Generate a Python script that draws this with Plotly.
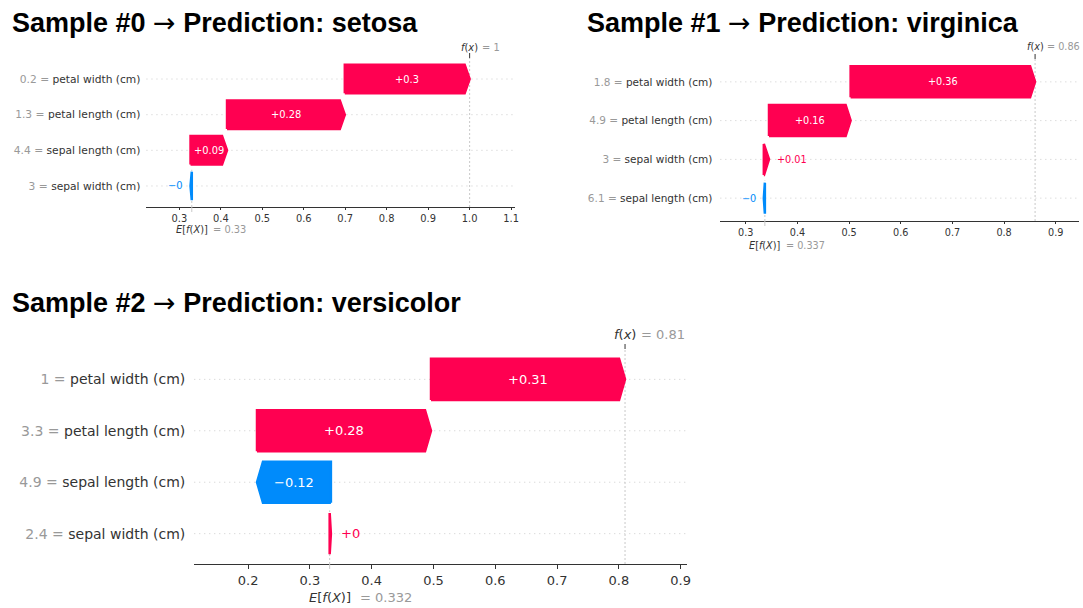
import plotly.graph_objects as go

# ---------------------------------------------------------------- data
# Each sample: features listed top-to-bottom, their raw values, SHAP values,
# the expected model output E[f(X)] and the predicted class.
s0_features = ["petal width (cm)", "petal length (cm)", "sepal length (cm)", "sepal width (cm)"]
s0_values = [0.2, 1.3, 4.4, 3]
s0_shap = [0.301, 0.284, 0.088, -0.003]
s0_base = 0.33
s0_class = "setosa"

s1_features = ["petal width (cm)", "petal length (cm)", "sepal width (cm)", "sepal length (cm)"]
s1_values = [1.8, 4.9, 3, 6.1]
s1_shap = [0.357, 0.158, 0.010, -0.002]
s1_base = 0.337
s1_class = "virginica"

s2_features = ["petal width (cm)", "petal length (cm)", "sepal length (cm)", "sepal width (cm)"]
s2_values = [1, 3.3, 4.9, 2.4]
s2_shap = [0.314, 0.2816, -0.1196, 0.002]
s2_base = 0.332
s2_class = "versicolor"

# ---------------------------------------------------------------- style
W, H = 1083, 608
RED, BLUE = "#ff0051", "#008bfb"
AXIS, GRAY, VLINE, GRID = "#333333", "#999999", "#c8c8c8", "#cccccc"
FONT = "DejaVu Sans"
TITLE_FONT = "Liberation Sans, Arial, sans-serif"
ARROW = "<span style='font-family:DejaVu Sans;font-weight:normal'>\u2192</span>"


def fmt(v, pattern):
    s = pattern % v
    if "." in s:
        s = s.rstrip("0").rstrip(".")
    return s.replace("-", "\u2212")


# placement of each waterfall panel on the page (pixels)
panels = [
    dict(features=s0_features, values=s0_values, shap=s0_shap, base=s0_base,
         title=f"Sample #0 {ARROW} Prediction: {s0_class}", title_xy=(10, 22),
         px=(147, 517), py=(58, 207), xr=(0.2207, 1.1096),
         yfs=10.7, fs=9.9, head=5, off=6, f_dy=11, f_gap=10, e_dy=22, e_gap=19,
         stand=5, tlen=2),
    dict(features=s1_features, values=s1_values, shap=s1_shap, base=s1_base,
         title=f"Sample #1 {ARROW} Prediction: {s1_class}", title_xy=(587, 22),
         px=(723, 1083), py=(59, 221), xr=(0.2508, 0.945),
         yfs=10.5, fs=9.7, head=5, off=6, f_dy=12, f_gap=10, e_dy=24, e_gap=19,
         stand=7, tlen=2),
    dict(features=s2_features, values=s2_values, shap=s2_shap, base=s2_base,
         title=f"Sample #2 {ARROW} Prediction: {s2_class}", title_xy=(10, 302),
         px=(195, 690), py=(349, 564), xr=(0.1129, 0.911),
         yfs=14, fs=13, head=6, off=8, f_dy=15, f_gap=14, e_dy=33, e_gap=28,
         stand=8, tlen=4),
]

fig = go.Figure()
shapes, annotations = [], []
layout_axes = {}
YR = (-0.59, 3.59)
BAR_H = 0.8

for k, p in enumerate(panels, start=1):
    xa = "x" if k == 1 else f"x{k}"
    ya = "y" if k == 1 else f"y{k}"
    n = len(p["shap"])
    ppu = (p["px"][1] - p["px"][0]) / (p["xr"][1] - p["xr"][0])
    hl_data = p["head"] / ppu

    rows = [n - 1 - j for j in range(n)]
    ticktext = [
        f"<span style='color:{GRAY}'>{fmt(v, '%0.03f')} = </span>{name}"
        for name, v in zip(p["features"], p["values"])
    ]

    # waterfall bars, accumulated from the base value at the bottom row upward
    loc = p["base"]
    for j in range(n - 1, -1, -1):
        v = p["shap"][j]
        y = rows[j]
        start, end = loc, loc + v
        loc = end
        hl = min(abs(v), hl_data)
        top, bot = y + BAR_H / 2, y - BAR_H / 2
        if v >= 0:
            neck = end - hl
            color = RED
        else:
            neck = end + hl
            color = BLUE
        xs = [start, neck, end, neck, start, start]
        ys = [bot, bot, y, top, top, bot]
        fig.add_trace(go.Scatter(
            x=xs, y=ys, mode="lines", fill="toself", fillcolor=color,
            line=dict(color=color, width=2.5), hoverinfo="skip", showlegend=False,
            xaxis=xa, yaxis=ya))

        label = fmt(v, "%+0.02f")
        bar_px = abs(v) * ppu
        text_px = len(label) * p["fs"] * 0.62
        if bar_px > text_px + 4:
            annotations.append(dict(
                x=(start + end) / 2, y=y, xref=xa, yref=ya, text=label, showarrow=False,
                font=dict(family=FONT, size=p["fs"], color="white"),
                xanchor="center", yanchor="middle"))
        else:
            right = max(start, end)
            left = min(start, end)
            annotations.append(dict(
                x=right if v >= 0 else left, y=y, xref=xa, yref=ya, text=label,
                showarrow=False, font=dict(family=FONT, size=p["fs"], color=color),
                xanchor="left" if v >= 0 else "right",
                xshift=p["off"] if v >= 0 else -p["off"], yanchor="middle"))

    fx = loc

    # dotted row guides
    for y in rows:
        shapes.append(dict(type="line", xref=f"{xa} domain", x0=0, x1=1, yref=ya, y0=y, y1=y,
                           line=dict(color=GRID, width=1, dash="1px,4px"), layer="below"))
    # reference lines at f(x) and E[f(X)]
    shapes.append(dict(type="line", xref=xa, x0=fx, x1=fx, yref=f"{ya} domain", y0=0, y1=1,
                       line=dict(color=VLINE, width=1, dash="2px,2px"), layer="below"))
    shapes.append(dict(type="line", xref=xa, x0=p["base"], x1=p["base"], yref=f"{ya} domain",
                       y0=0, y1=1 / n, line=dict(color=VLINE, width=1, dash="2px,2px"),
                       layer="below"))
    # secondary ticks
    shapes.append(dict(type="line", xref=xa, x0=fx, x1=fx, yref=f"{ya} domain", ysizemode="pixel",
                       yanchor=1, y0=0, y1=5, line=dict(color=AXIS, width=1)))
    shapes.append(dict(type="line", xref=xa, x0=p["base"], x1=p["base"], yref=f"{ya} domain",
                       ysizemode="pixel", yanchor=0, y0=-5, y1=0, line=dict(color=VLINE, width=1)))

    # f(x) and E[f(X)] labels
    annotations += [
        dict(x=fx, xref=xa, y=1, yref=f"{ya} domain", yshift=p["f_dy"], text="<i>f</i>(<i>x</i>)",
             showarrow=False, xanchor="center", yanchor="middle",
             font=dict(family=FONT, size=p["fs"], color=AXIS)),
        dict(x=fx, xref=xa, y=1, yref=f"{ya} domain", yshift=p["f_dy"], xshift=p["f_gap"],
             text="= " + fmt(fx, "%0.03f"), showarrow=False, xanchor="left", yanchor="middle",
             font=dict(family=FONT, size=p["fs"], color=GRAY)),
        dict(x=p["base"], xref=xa, y=0, yref=f"{ya} domain", yshift=-p["e_dy"],
             text="<i>E</i>[<i>f</i>(<i>X</i>)]", showarrow=False, xanchor="center",
             yanchor="middle", font=dict(family=FONT, size=p["fs"], color=AXIS)),
        dict(x=p["base"], xref=xa, y=0, yref=f"{ya} domain", yshift=-p["e_dy"], xshift=p["e_gap"],
             text="= " + fmt(p["base"], "%0.03f"), showarrow=False, xanchor="left",
             yanchor="middle", font=dict(family=FONT, size=p["fs"], color=GRAY)),
    ]

    # panel title
    annotations.append(dict(
        x=p["title_xy"][0] / W, y=1 - p["title_xy"][1] / H, xref="paper", yref="paper",
        text=f"<b>{p['title']}</b>", showarrow=False, xanchor="left", yanchor="middle",
        font=dict(family=TITLE_FONT, size=27, color="black")))

    xkey = "xaxis" if k == 1 else f"xaxis{k}"
    ykey = "yaxis" if k == 1 else f"yaxis{k}"
    layout_axes[xkey] = dict(
        domain=[p["px"][0] / W, p["px"][1] / W], range=list(p["xr"]), anchor=ya,
        showline=True, linecolor=AXIS, linewidth=1, ticks="outside", ticklen=p["tlen"],
        tickcolor=AXIS, tick0=0, dtick=0.1, tickformat=".1f", showgrid=False,
        zeroline=False, fixedrange=True,
        tickfont=dict(family=FONT, size=p["fs"], color=AXIS))
    layout_axes[ykey] = dict(
        domain=[1 - p["py"][1] / H, 1 - p["py"][0] / H], range=list(YR), anchor=xa,
        tickvals=rows, ticktext=ticktext, showline=False, showgrid=False, zeroline=False,
        ticks="", ticklabelstandoff=p["stand"], fixedrange=True,
        tickfont=dict(family=FONT, size=p["yfs"], color=AXIS))

fig.update_layout(
    width=W, height=H, margin=dict(l=0, r=0, t=0, b=0),
    paper_bgcolor="white", plot_bgcolor="white",
    shapes=shapes, annotations=annotations, showlegend=False,
    **layout_axes)

fig.write_html("out.html", config={"displayModeBar": False})
